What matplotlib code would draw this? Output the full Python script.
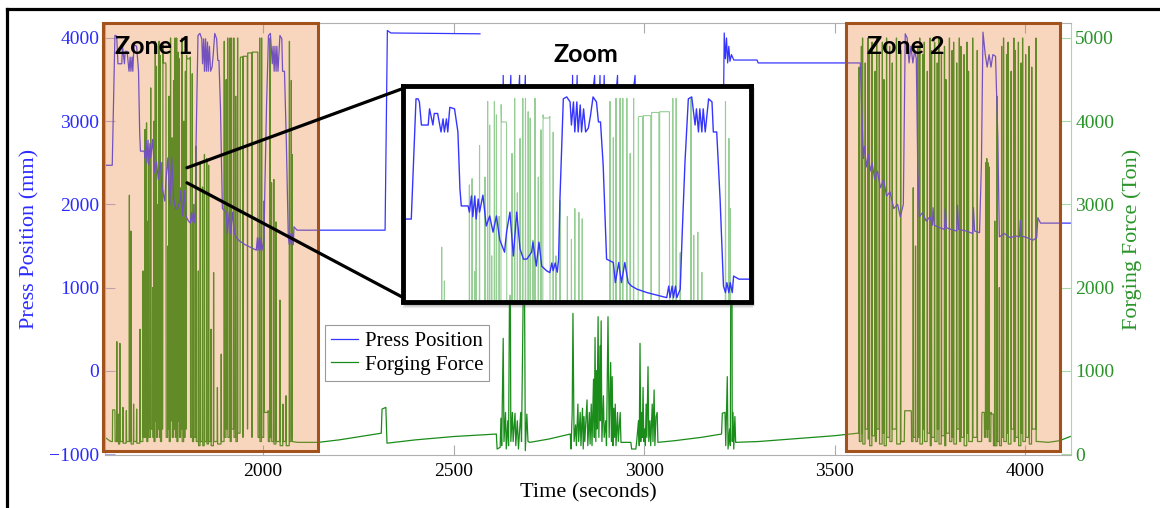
import numpy as np
import matplotlib.pyplot as plt
from matplotlib.patches import Rectangle, ConnectionPatch
from matplotlib.lines import Line2D

W, H = 1160, 508

# ---- press position (mm), zone 1 (also shown in the zoom box)
press_t1 = [1585, 1604, 1611, 1614, 1616, 1619, 1629, 1631, 1636, 1638,
            1643, 1648, 1651, 1653, 1656, 1658, 1661, 1668, 1673, 1676,
            1678, 1688, 1690, 1693, 1695, 1698, 1700, 1703, 1705, 1710,
            1715, 1720, 1725, 1730, 1735, 1742, 1745, 1750, 1755, 1760,
            1765, 1770, 1775, 1782, 1784, 1789, 1793, 1797, 1804, 1809,
            1812, 1814, 1817, 1820, 1822, 1824, 1829, 1834, 1839, 1841,
            1844, 1846, 1849, 1851, 1854, 1856, 1859, 1862, 1866, 1869,
            1873, 1878, 1881, 1884, 1888, 1893, 1903, 1906, 1911, 1915,
            1920, 1925, 1930, 1938, 1953, 1982, 1985, 1987, 1990, 1992,
            1995, 1997, 2002, 2005, 2009, 2014, 2019, 2024, 2026, 2029,
            2031, 2034, 2036, 2039, 2044, 2049, 2051, 2056, 2061, 2066,
            2069, 2071, 2074, 2076, 2079, 2081, 2089, 2320, 2326, 2335,
            2569]
press_v1 = [2470, 2470, 4030, 4030, 3990, 3690, 3690, 3900, 3690, 3840,
            3840, 3600, 3770, 3600, 3770, 3600, 3920, 3900, 3600, 2860,
            2640, 2640, 2560, 2770, 2500, 2770, 2470, 2730, 2560, 2780,
            2380, 2510, 2300, 2510, 2200, 2040, 2300, 2560, 1990, 2560,
            2080, 1950, 1950, 2040, 2170, 1860, 2170, 1860, 1800, 1775,
            1900, 1800, 1900, 1780, 1950, 2730, 4030, 4055, 3990, 3690,
            3990, 3600, 3990, 3600, 3950, 3600, 3900, 3600, 3650, 3800,
            4055, 3990, 3730, 3730, 3165, 1950, 1906, 1645, 1906, 1645,
            1906, 1645, 1600, 1560, 1515, 1450, 1600, 1450, 1600, 1450,
            1600, 1450, 1560, 2300, 3200, 4030, 4055, 3690, 3900, 3600,
            3900, 3600, 3900, 3600, 4030, 3990, 3600, 3600, 2730, 1600,
            1515, 1645, 1515, 1645, 1515, 1730, 1690, 1690, 4090, 4060,
            4050]

# ---- press position, middle part (gap in the record) and zone 2
press_t2 = [np.nan,
            2590, 2628, 2630, 2633, 2650, 2653, 2673, 2676, 2688, 2691,
            2810, 2812, 2815, 2824, 2827, 2870, 2873, 2884, 2887, 2895,
            2898, 2930, 2933, 2976, 2979, 3205,
            3210, 3213, 3216, 3219, 3222, 3225, 3229, 3235, 3250, 3296,
            3299, 3567, 3575, 3578, 3583, 3588, 3593, 3598, 3605, 3612,
            3620, 3628, 3636, 3645, 3655, 3665, 3672, 3680, 3685, 3690,
            3695, 3700, 3705, 3710, 3714, 3718, 3722, 3730, 3740, 3750,
            3756, 3758, 3761, 3775, 3788, 3790, 3793, 3805, 3820, 3822,
            3825, 3845, 3862, 3864, 3867, 3880, 3885, 3889, 3895, 3900,
            3905, 3910, 3915, 3922, 3928, 3932, 3945, 3960, 3975, 3985,
            3987, 3990, 4005, 4020, 4030, 4033, 4040, 4118]
press_v2 = [np.nan,
            1750, 1800, 3550, 1800, 3550, 1800, 3550, 1800, 3550, 1800,
            1750, 3550, 1800, 3550, 1800, 3550, 1800, 3550, 1800, 3550,
            1800, 3550, 1800, 3550, 1800, 1800,
            4060, 3750, 4000, 3700, 3900, 3720, 3800, 3735, 3735, 3735,
            3700, 3700, 2550, 2700, 2450, 2600, 2400, 2500, 2300, 2400,
            2200, 2300, 2100, 2150, 1950, 2000, 1850, 2000, 4050, 4000,
            3700, 3900, 3700, 3850, 3750, 2400, 1850, 1900, 1800, 1850,
            1750, 1960, 1750, 1720, 1700, 1950, 1720, 1700, 1680, 1990,
            1700, 1680, 1650, 1960, 1680, 1660, 2500, 4070, 3800, 3650,
            3800, 3650, 3800, 3780, 2800, 1610, 1650, 1600, 1620, 1610,
            1810, 1620, 1600, 1570, 1600, 1840, 1775, 1775]

# ---- forging force (Ton), zone 1: spike time, spike value, level after it
z1_lead_t = [1585, 1600]
z1_lead_v = [200, 150]
z1_spike_t = [1605, 1611, 1616, 1620, 1624, 1632, 1641, 1649, 1653, 1660,
              1668, 1677, 1685, 1690, 1694, 1698, 1700, 1705, 1710, 1713,
              1717, 1720, 1723, 1727, 1730, 1734, 1737, 1745, 1750, 1753,
              1757, 1761, 1765, 1769, 1773, 1777, 1780, 1784, 1787, 1792,
              1796, 1799, 1809, 1814, 1818, 1824, 1830, 1835, 1841, 1846,
              1852, 1857, 1863, 1870, 1880, 1890, 1898, 1903, 1907, 1913,
              1917, 1923, 1928, 1933, 1940, 1947, 1959, 1971, 1986, 1991,
              1996, 2002, 2013, 2018, 2022, 2028, 2034, 2044, 2052, 2060,
              2069, 2074, 2076]
z1_spike_v = [530, 520, 1350, 480, 1330, 560, 520, 3110, 2680, 600,
              540, 1500, 2200, 3900, 3980, 2800, 3600, 4400, 2000, 4000,
              4960, 4660, 3000, 4960, 4790, 3500, 4920, 4660, 2500, 4300,
              5000, 3800, 4490, 5000, 5000, 4830, 4750, 3200, 5000, 4000,
              4600, 4790, 4770, 4570, 3000, 3700, 2200, 3500, 3210, 3600,
              3550, 3470, 1500, 2180, 800, 1200, 4960, 4500, 5000, 5000,
              5000, 5000, 4300, 5000, 4750, 200, 300, 200, 4830, 5000,
              5000, 3040, 520, 5000, 3260, 3300, 2790, 1850, 600, 700,
              4960, 4490, 3600]
z1_spike_after = [530, 150, 150, 120, 150, 130, 150, 150, 120, 150,
                  130, 150, 200, 200, 150, 300, 200, 300, 200, 150,
                  400, 200, 300, 200, 150, 300, 4700, 200, 300, 150,
                  400, 200, 300, 200, 150, 400, 200, 300, 150, 200,
                  300, 4750, 200, 150, 200, 150, 100, 150, 100, 150,
                  120, 150, 100, 150, 120, 150, 200, 300, 200, 150,
                  300, 200, 150, 250, 4770, 4780, 4820, 4830, 200, 150,
                  200, 500, 150, 200, 150, 120, 150, 100, 150, 100,
                  150, 200, 150]
z1_tail_t = [2090]
z1_tail_v = [140]

# ---- forging force between the zones
force_t2 = [2145, 2200, 2310, 2312, 2322, 2325, 2400, 2500, 2612, 2614,
            2622, 2624, 2626, 2630, 2632, 2636, 2638, 2642, 2644, 2648,
            2650, 2654, 2656, 2661, 2663, 2667, 2670, 2676, 2678, 2685,
            2688, 2692, 2695, 2700, 2750, 2806, 2808, 2811, 2813, 2816,
            2820, 2822, 2826, 2828, 2832, 2834, 2838, 2840, 2842, 2844,
            2850, 2852, 2856, 2858, 2861, 2863, 2867, 2869, 2871, 2873,
            2875, 2876, 2879, 2881, 2884, 2885, 2887, 2889, 2893, 2895,
            2899, 2901, 2905, 2908, 2912, 2914, 2916, 2918, 2920, 2922,
            2924, 2926, 2930, 2932, 2937, 2939, 2965, 2967, 2978, 2980,
            2985, 2987, 2989, 2991, 2993, 2995, 2997, 2999, 3001, 3003,
            3005, 3007, 3010, 3012, 3015, 3017, 3021, 3023, 3026, 3028,
            3031, 3034, 3036, 3080, 3150, 3203, 3205, 3212, 3214, 3218,
            3220, 3224, 3226, 3228, 3230, 3231, 3233, 3235, 3238, 3240,
            3300, 3400, 3500]
force_v2 = [140, 170, 250, 540, 560, 130, 170, 210, 240, 60,
            80, 430, 100, 1390, 150, 500, 60, 400, 100, 3000,
            150, 500, 150, 490, 100, 400, 60, 500, 150, 2900,
            40, 480, 150, 140, 180, 240, 60, 500, 1690, 150,
            350, 100, 600, 150, 500, 100, 550, 60, 450, 150,
            650, 100, 500, 120, 600, 100, 900, 200, 1400, 150,
            1000, 300, 1650, 200, 1300, 400, 1600, 150, 700, 200,
            400, 100, 1650, 200, 1100, 150, 930, 100, 550, 200,
            600, 100, 500, 150, 500, 140, 140, 60, 60, 140,
            400, 100, 1330, 150, 500, 200, 800, 150, 300, 100,
            600, 200, 1050, 150, 400, 100, 600, 150, 770, 100,
            450, 500, 140, 160, 200, 240, 490, 500, 100, 930,
            60, 300, 100, 3500, 3400, 150, 500, 60, 450, 140,
            150, 185, 220]

# ---- forging force, zone 2
z2_lead_t = [3560]
z2_lead_v = [250]
z2_spike_t = [3564, 3570, 3573, 3580, 3587, 3591, 3598, 3606, 3610, 3617,
              3625, 3629, 3636, 3644, 3651, 3662, 3673, 3683, 3701, 3706,
              3712, 3718, 3723, 3731, 3735, 3743, 3750, 3754, 3762, 3769,
              3773, 3780, 3788, 3792, 3801, 3808, 3812, 3820, 3827, 3831,
              3839, 3847, 3851, 3862, 3874, 3886, 3893, 3896, 3899, 3902,
              3905, 3910, 3916, 3920, 3926, 3932, 3938, 3943, 3951, 3955,
              3963, 3970, 3974, 3982, 3989, 3993, 4001, 4010, 4017, 4028]
z2_spike_v = [4650, 4900, 5000, 4700, 5000, 4850, 4950, 4600, 5000, 4800,
              4950, 4500, 5000, 4900, 4700, 5000, 4850, 300, 500, 3200,
              2500, 4900, 5000, 4800, 4950, 4600, 5000, 4850, 4950, 4700,
              5000, 4800, 4900, 4500, 5000, 4850, 4950, 4700, 5000, 4900,
              4800, 4950, 4600, 5000, 4850, 450, 200, 3500, 3550, 3500,
              3450, 500, 480, 2800, 4300, 2000, 4900, 5000, 4800, 4950,
              4600, 5000, 4850, 4950, 4700, 5000, 4800, 4900, 4650, 5000]
z2_spike_after = [150, 250, 120, 300, 180, 100, 220, 150, 300, 120,
                  250, 100, 200, 150, 300, 120, 150, 520, 150, 200,
                  150, 200, 120, 300, 150, 250, 100, 200, 150, 300,
                  120, 220, 100, 250, 150, 200, 120, 300, 150, 200,
                  100, 250, 150, 200, 150, 500, 200, 300, 200, 300,
                  150, 480, 100, 100, 150, 100, 200, 150, 250, 120,
                  300, 150, 200, 100, 250, 150, 200, 120, 300, 150]
z2_tail_t = [4034, 4060, 4090, 4118]
z2_tail_v = [150, 140, 160, 210]

zones = [("Zone 1", 1580, 2144), ("Zone 2", 3530, 4092)]
x_ticks = [2000, 2500, 3000, 3500, 4000]
press_ticks = [-1000, 0, 1000, 2000, 3000, 4000]
force_ticks = [0, 1000, 2000, 3000, 4000, 5000]

blue = '#3535ff'
green = '#1a8c1a'
half_w = 0.6  # seconds, half width of a press stroke spike

plt.rcParams['font.family'] = ['Liberation Serif', 'DejaVu Serif']


def spikes(lead_t, lead_v, sp_t, sp_v, sp_after, tail_t, tail_v):
    t, v = list(lead_t), list(lead_v)
    level = lead_v[-1]
    for ti, vi, ai in zip(sp_t, sp_v, sp_after):
        t += [ti - half_w, ti, ti + half_w]
        v += [level, vi, ai]
        level = ai
    return t + list(tail_t), v + list(tail_v)


def px_rect(x0, y0, x1, y1):
    return [x0 / W, 1 - y1 / H, (x1 - x0) / W, (y1 - y0) / H]


force_t1, force_v1 = spikes(z1_lead_t, z1_lead_v, z1_spike_t, z1_spike_v,
                            z1_spike_after, z1_tail_t, z1_tail_v)
force_t3, force_v3 = spikes(z2_lead_t, z2_lead_v, z2_spike_t, z2_spike_v,
                            z2_spike_after, z2_tail_t, z2_tail_v)

fig = plt.figure(figsize=(W / 100, H / 100), dpi=100)

ax = fig.add_axes(px_rect(105, 23, 1071, 455))
ax2 = ax.twinx()
ax.set_zorder(2)
ax2.set_zorder(1)
ax.patch.set_visible(False)

press_t = press_t1 + press_t2
press_v = press_v1 + press_v2
force_t = force_t1 + force_t2 + force_t3
force_v = force_v1 + force_v2 + force_v3

l1, = ax.plot(press_t, press_v, color=blue, lw=0.9, label='Press Position')
l2, = ax2.plot(force_t, force_v, color=green, lw=0.9, label='Forging Force')

ax.set_xlim(1585, 4120)
ax.set_ylim(-1012, 4180)
ax2.set_ylim(-12, 5180)
ax.set_xticks(x_ticks)
ax.set_yticks(press_ticks)
ax2.set_yticks(force_ticks)

ax.tick_params(axis='x', direction='in', top=True, length=7, color='#aaaaaa',
               labelsize=14, pad=6)
ax.tick_params(axis='y', direction='in', length=7, color='#a9a9e6',
               labelcolor='#2b2bff', labelsize=14, pad=4)
ax2.tick_params(axis='y', direction='in', length=7, color='#a6d9a6',
                labelcolor='#2a942a', labelsize=14, pad=3)
for s in ['top', 'bottom']:
    ax.spines[s].set_color('#b0b0b0')
ax.spines['left'].set_color('#b4b4e6')
ax.spines['right'].set_visible(False)
for s in ['top', 'bottom', 'left']:
    ax2.spines[s].set_visible(False)
ax2.spines['right'].set_color('#a6d9a6')

ax.set_xlabel('Time (seconds)', fontsize=16, labelpad=2)
ax.set_ylabel('Press Position (mm)', fontsize=16, color='#2b2bff', labelpad=7)
ax2.set_ylabel('Forging Force (Ton)', fontsize=16, color='#2a942a', labelpad=6)

# shaded zones
for name, x0, x1 in zones:
    ax.add_patch(Rectangle((x0, -965), x1 - x0, 4180 + 965, facecolor='#eb8a45',
                           alpha=0.35, edgecolor='none', zorder=5, clip_on=False))
    ax.add_patch(Rectangle((x0, -965), x1 - x0, 4180 + 965, fill=False,
                           edgecolor='#a3521c', lw=2.2, zorder=6, clip_on=False))

fig.text(115 / W, 1 - 46 / H, 'Zone 1', family='Lato', weight='bold', fontsize=18,
         ha='left', va='center', zorder=10)
fig.text(867 / W, 1 - 46 / H, 'Zone 2', family='Lato', weight='bold', fontsize=18,
         ha='left', va='center', zorder=10)
fig.text(586 / W, 1 - 55 / H, 'Zoom', family='Lato', weight='bold', fontsize=18,
         ha='center', va='center', zorder=10)

leg = ax.legend(handles=[l1, l2], loc='upper left',
                bbox_to_anchor=((325 - 105) / 966, 1 - (325 - 23) / 432),
                fancybox=False, edgecolor='#9a9a9a', framealpha=1, fontsize=15,
                handlelength=1.3, handletextpad=0.3, borderpad=0.3,
                labelspacing=0.2, borderaxespad=0)
leg.get_frame().set_linewidth(0.8)
leg.set_zorder(20)

# zoom box with shadow
for k, a in enumerate([0.12, 0.12, 0.15]):
    fig.add_artist(Rectangle(((403 + k) / W, 1 - (308 - k) / H), 350 / W, 218 / H,
                             transform=fig.transFigure, facecolor='#555555',
                             edgecolor='none', alpha=a, zorder=4))

ins_g = fig.add_axes(px_rect(402.5, 86.5, 750.5, 301.5), zorder=5)
ins_g.set_facecolor('white')
ins_g.plot(force_t1, force_v1, color='#2e9e2e', lw=0.8, alpha=0.5)
ins_g.set_ylim(2420, 5150)
ins_g.set_xlim(1591, 2106)
ins_g.set_xticks([])
ins_g.set_yticks([])
for s in ins_g.spines.values():
    s.set_visible(False)

ins_b = ins_g.twinx()
ins_b.set_zorder(6)
ins_b.patch.set_visible(False)
ins_b.plot(press_t1, press_v1, color=blue, lw=1.0)
ins_b.set_ylim(1400, 4190)
ins_b.set_yticks([])
for s in ins_b.spines.values():
    s.set_color('black')
    s.set_linewidth(3.5)

for yb, yv in [(0.99, 2440), (0.02, 2260)]:
    con = ConnectionPatch(xyA=(1800, yv), coordsA=ax.transData,
                          xyB=(0, yb), coordsB=ins_b.transAxes,
                          color='black', lw=2.3, zorder=4.5)
    fig.add_artist(con)

# outer frame
fig.add_artist(Line2D([7 / W, 7 / W], [0, 1 - 9 / H], transform=fig.transFigure,
                      color='black', lw=2.3))
fig.add_artist(Line2D([7 / W, 1], [1 - 9 / H, 1 - 9 / H], transform=fig.transFigure,
                      color='black', lw=2.3))

fig.savefig('out.png', dpi=100)
